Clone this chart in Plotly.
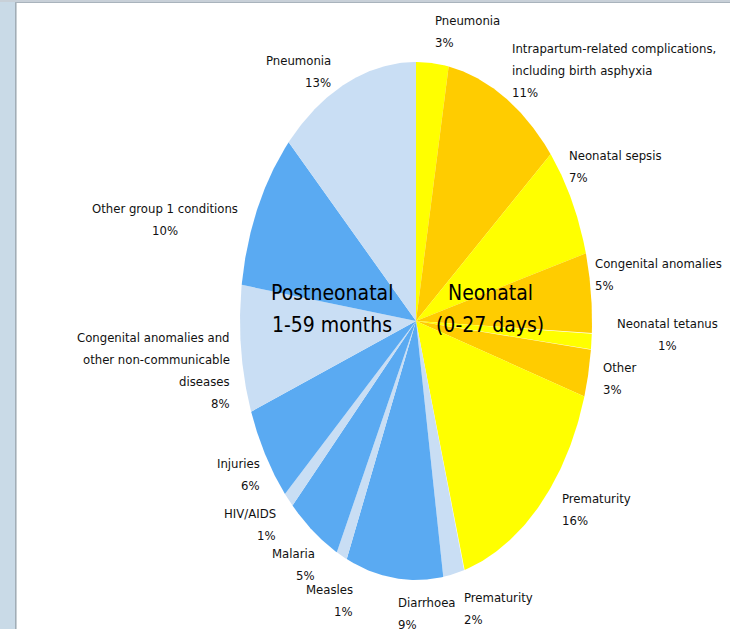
import numpy as np
import plotly.graph_objects as go

# Causes of death, neonatal group (clockwise from 12 o'clock)
neonatal_causes = [
    "Pneumonia",
    "Intrapartum-related complications,<br>including birth asphyxia",
    "Neonatal sepsis",
    "Congenital anomalies",
    "Neonatal tetanus",
    "Other",
    "Prematurity",
]
neonatal_pct = [3, 11, 7, 5, 1, 3, 16]

# Causes of death, postneonatal group (continuing clockwise)
postneonatal_causes = [
    "Prematurity",
    "Diarrhoea",
    "Measles",
    "Malaria",
    "HIV/AIDS",
    "Injuries",
    "Congenital anomalies and<br>other non-communicable<br>diseases",
    "Other group 1 conditions",
    "Pneumonia",
]
postneonatal_pct = [2, 9, 1, 5, 1, 6, 8, 10, 13]

group_titles = ["Neonatal<br>(0-27 days)", "Postneonatal<br>1-59 months"]

# ---- styling ----
YELLOW, ORANGE = "#FFFF00", "#FFCC00"
LIGHT_BLUE, BLUE = "#C9DEF4", "#5AAAF2"
neonatal_colors = [YELLOW if i % 2 == 0 else ORANGE for i in range(len(neonatal_pct))]
postneonatal_colors = [LIGHT_BLUE if i % 2 == 0 else BLUE for i in range(len(postneonatal_pct))]

FONT = "DejaVu Sans Condensed, DejaVu Sans, sans-serif"
LABEL_SIZE, LABEL_GAP = 13, 22      # label font size, px between label lines
TITLE_SIZE, TITLE_GAP = 21, 32
W, H = 730, 629
CX, CY = 416, 321          # pie centre (axis units = pixels)
RX, RY = 176, 259          # elliptical radii

# label placement: (x, y of first line, xanchor)
neonatal_label_pos = [
    (433, 20, "left"),
    (510, 48, "left"),
    (567, 155, "left"),
    (593, 263, "left"),
    (667, 323, "center"),
    (601, 367, "left"),
    (560, 498, "left"),
]
postneonatal_label_pos = [
    (462, 597, "left"),
    (396, 602, "left"),
    (355, 589, "right"),
    (317, 553, "right"),
    (278, 513, "right"),
    (262, 463, "right"),
    (232, 337, "right"),
    (165, 208, "center"),
    (333, 60, "right"),
]
title_pos = [(490, 293), (332, 293)]

causes = neonatal_causes + postneonatal_causes
values = np.array(neonatal_pct + postneonatal_pct, dtype=float)
colors = neonatal_colors + postneonatal_colors
label_pos = neonatal_label_pos + postneonatal_label_pos

fig = go.Figure()

# wedges of a vertically stretched pie, clockwise from the top
bounds = np.concatenate([[0.0], np.cumsum(values)]) / values.sum() * 2 * np.pi
for i, (cause, pct) in enumerate(zip(causes, values)):
    t = np.linspace(bounds[i], bounds[i + 1], 80)
    xs = np.concatenate([[CX], CX + RX * np.sin(t), [CX]])
    ys = np.concatenate([[CY], CY - RY * np.cos(t), [CY]])
    fig.add_trace(go.Scatter(
        x=xs, y=ys, mode="lines", fill="toself",
        fillcolor=colors[i], line=dict(width=0, color=colors[i]),
        name=cause.replace("<br>", " "), hoverinfo="text",
        text=f"{cause.replace('<br>', ' ')}: {pct:.0f}%", showlegend=False,
    ))


def line_annotations(text, x, y0, anchor, gap, size, color):
    """One annotation per text line so the line spacing can be set freely."""
    out = []
    for k, line in enumerate(text.split("<br>")):
        out.append(dict(
            x=x, y=y0 + k * gap, xref="x", yref="y",
            xanchor=anchor, yanchor="middle", align=anchor,
            text=line, showarrow=False,
            font=dict(family=FONT, size=size, color=color),
        ))
    return out


annotations = []
for cause, pct, (x, y, anchor) in zip(causes, values, label_pos):
    annotations += line_annotations(f"{cause}<br>{pct:.0f}%", x, y, anchor,
                                    LABEL_GAP, LABEL_SIZE, "#111111")
for title, (x, y) in zip(group_titles, title_pos):
    annotations += line_annotations(title, x, y, "center",
                                    TITLE_GAP, TITLE_SIZE, "#000000")

# slide frame: left band and top band
shapes = [
    dict(type="rect", xref="x", yref="y", x0=0, x1=15, y0=0, y1=H,
         fillcolor="#C9DAE7", line=dict(width=0), layer="above"),
    dict(type="line", xref="x", yref="y", x0=15.8, x1=15.8, y0=0, y1=H,
         line=dict(color="#9DA9B3", width=1.5), layer="above"),
    dict(type="rect", xref="x", yref="y", x0=0, x1=W, y0=0, y1=2,
         fillcolor="#C8D0D8", line=dict(width=0), layer="above"),
    dict(type="line", xref="x", yref="y", x0=15, x1=W, y0=2.5, y1=2.5,
         line=dict(color="#A9B3BC", width=1), layer="above"),
]

fig.update_layout(
    width=W, height=H,
    margin=dict(l=0, r=0, t=0, b=0),
    paper_bgcolor="white", plot_bgcolor="white",
    xaxis=dict(range=[0, W], visible=False, fixedrange=True),
    yaxis=dict(range=[H, 0], visible=False, fixedrange=True),
    annotations=annotations, shapes=shapes,
    showlegend=False,
)

fig.write_html("out.html")
